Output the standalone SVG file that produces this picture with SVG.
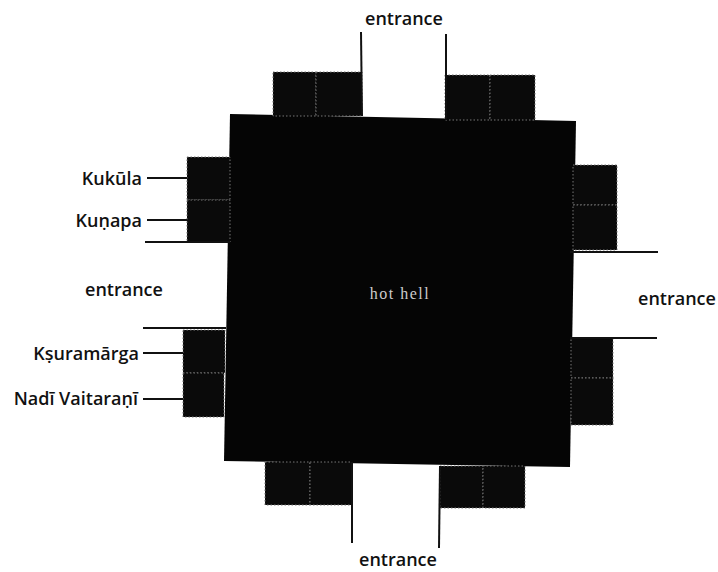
<svg xmlns="http://www.w3.org/2000/svg" width="718" height="572" viewBox="0 0 718 572">
<style>
.lbl{font-family:"Open Sans","Liberation Sans",sans-serif;font-weight:600;font-size:18px;fill:#111}
.blk{fill:#0a0a0a;stroke:#777;stroke-width:1;stroke-dasharray:1.5 2}
.ln{stroke:#111;stroke-width:2;fill:none}
.hell{fill:#050505}
</style>
<rect width="718" height="572" fill="#fff"/>
<g id="hot-hell">
<polygon class="hell" points="230,114 576,121 570,467 224,461"/>
<text x="400" y="299" text-anchor="middle" font-family="'Liberation Serif',serif" font-size="16" letter-spacing="1.5" fill="#ccc">hot hell</text>
</g>
<g id="top-left-blocks">
<rect class="blk" x="273" y="72" width="43" height="44"/>
<rect class="blk" x="316" y="72" width="46" height="44"/>
</g>
<g id="top-right-blocks">
<rect class="blk" x="445" y="75" width="45" height="45"/>
<rect class="blk" x="490" y="75" width="45" height="45"/>
</g>
<g id="kukula">
<rect class="blk" x="187" y="157" width="43" height="43"/>
<text class="lbl" x="142" y="185" text-anchor="end">Kukūla</text>
</g>
<g id="kunapa">
<rect class="blk" x="187" y="200" width="43" height="42"/>
<text class="lbl" x="142" y="227" text-anchor="end">Kuṇapa</text>
</g>
<g id="ksuramarga">
<rect class="blk" x="183" y="330" width="42" height="43"/>
<text class="lbl" x="139" y="360" text-anchor="end">Kṣuramārga</text>
</g>
<g id="nadi-vaitarani">
<rect class="blk" x="183" y="373" width="41" height="44"/>
<text class="lbl" x="138" y="405" text-anchor="end">Nadī Vaitaraṇī</text>
</g>
<g id="right-upper-blocks">
<rect class="blk" x="573" y="165" width="44" height="40"/>
<rect class="blk" x="573" y="205" width="44" height="45"/>
</g>
<g id="right-lower-blocks">
<rect class="blk" x="571" y="338" width="42" height="40"/>
<rect class="blk" x="571" y="378" width="42" height="47"/>
</g>
<g id="bottom-left-blocks">
<rect class="blk" x="265" y="462" width="45" height="43"/>
<rect class="blk" x="310" y="462" width="42" height="43"/>
</g>
<g id="bottom-right-blocks">
<rect class="blk" x="440" y="466" width="43" height="42"/>
<rect class="blk" x="483" y="466" width="42" height="42"/>
</g>
<g id="entrance-top"><text class="lbl" x="404" y="25" text-anchor="middle">entrance</text></g>
<g id="entrance-left"><text class="lbl" x="124" y="296" text-anchor="middle">entrance</text></g>
<g id="entrance-right"><text class="lbl" x="677" y="305" text-anchor="middle">entrance</text></g>
<g id="entrance-bottom"><text class="lbl" x="398" y="566" text-anchor="middle">entrance</text></g>
<g id="connectors">
<line class="ln" x1="361" y1="32" x2="362" y2="116"/>
<line class="ln" x1="446" y1="34" x2="446" y2="120"/>
<line class="ln" x1="145" y1="242" x2="230" y2="242"/>
<line class="ln" x1="143" y1="328" x2="226" y2="328"/>
<line class="ln" x1="570" y1="252" x2="658" y2="252"/>
<line class="ln" x1="570" y1="338" x2="657" y2="338"/>
<line class="ln" x1="352" y1="462" x2="352" y2="543"/>
<line class="ln" x1="440" y1="466" x2="439" y2="548"/>
<line class="ln" x1="147" y1="178" x2="187" y2="178"/>
<line class="ln" x1="147" y1="220" x2="187" y2="220"/>
<line class="ln" x1="143" y1="353" x2="183" y2="353"/>
<line class="ln" x1="143" y1="399" x2="183" y2="399"/>
</g>
</svg>
